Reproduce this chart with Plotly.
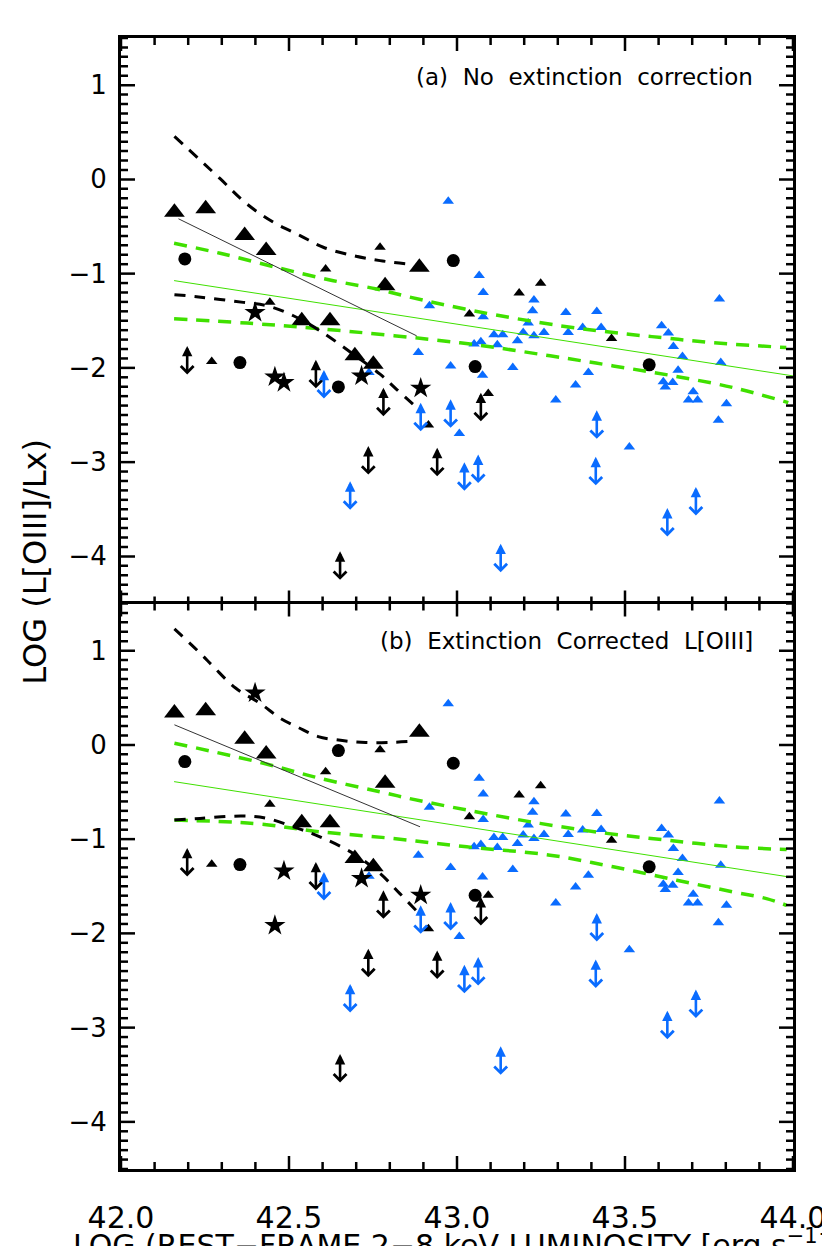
import plotly.graph_objects as go

# ---- data --------------------------------------------------------------
# x = log rest-frame 2-8 keV luminosity; ya = panel (a) value, yb = panel (b)
big_tri_x = [42.159, 42.252, 42.368, 42.432, 42.538, 42.622, 42.696, 42.751, 42.786, 42.888]
big_tri_ya = [-0.348, -0.312, -0.596, -0.755, -1.500, -1.500, -1.872, -1.961, -1.128, -0.933]
big_tri_yb = [0.337, 0.362, 0.060, -0.096, -0.826, -0.826, -1.206, -1.294, -0.408, 0.135]

circ_x = [42.190, 42.354, 42.647, 42.989, 43.054, 43.572]
circ_ya = [-0.844, -1.944, -2.202, -0.862, -1.986, -1.968]
circ_yb = [-0.177, -1.270, -0.060, -0.195, -1.596, -1.294]

star_x = [42.399, 42.458, 42.485, 42.716, 42.892]
star_ya = [-1.412, -2.096, -2.156, -2.085, -2.216]
star_yb = [0.550, -1.915, -1.337, -1.418, -1.596]

small_tri_x = [42.270, 42.443, 42.609, 42.771, 42.915, 43.037, 43.093, 43.185, 43.249, 43.460]
small_tri_ya = [-1.933, -1.305, -0.950, -0.720, -2.606, -1.429, -2.273, -1.205, -1.103, -1.688]
small_tri_yb = [-1.266, -0.631, -0.284, -0.053, -1.950, -0.762, -1.596, -0.532, -0.433, -1.011]

blk_lim_x = [42.197, 42.580, 42.652, 42.736, 42.781, 42.941, 43.071]
blk_lim_ya = [-1.926, -2.074, -4.106, -2.989, -2.369, -3.007, -2.422]
blk_lim_yb = [-1.252, -1.401, -3.439, -2.322, -1.702, -2.340, -1.773]

blue_lim_x = [42.604, 42.682, 42.892, 42.981, 43.022, 43.063, 43.130, 43.413, 43.416, 43.626, 43.711]
blue_lim_ya = [-2.181, -3.362, -2.529, -2.493, -3.160, -3.078, -4.024, -3.103, -2.610, -3.646, -3.422]
blue_lim_yb = [-1.507, -2.695, -1.862, -1.826, -2.493, -2.411, -3.358, -2.436, -1.943, -2.979, -2.755]

blue_x = [42.974, 43.066, 43.078, 42.918, 43.229, 43.225, 43.078, 43.324, 43.416, 43.212,
          43.110, 43.136, 43.197, 43.259, 43.229, 43.331, 43.374, 43.429, 43.051, 43.071,
          43.120, 43.180, 42.885, 42.981, 43.076, 43.166, 43.391, 43.353, 43.294, 43.609,
          43.629, 43.644, 43.671, 43.658, 43.614, 43.620, 43.642, 43.703, 43.689, 43.716,
          43.802, 43.778, 43.781, 43.785, 43.007, 43.513, 42.738]
blue_ya = [-0.231, -1.021, -1.199, -1.340, -1.280, -1.394, -1.457, -1.412, -1.401, -1.524,
           -1.649, -1.649, -1.624, -1.624, -1.660, -1.624, -1.571, -1.571, -1.748, -1.723,
           -1.755, -1.713, -1.837, -1.979, -2.078, -1.997, -2.050, -2.181, -2.340, -1.553,
           -1.631, -1.773, -1.880, -2.024, -2.146, -2.202, -2.156, -2.252, -2.340, -2.340,
           -2.380, -2.556, -1.269, -1.944, -2.695, -2.840, -2.050]
blue_yb = [0.436, -0.355, -0.521, -0.663, -0.603, -0.716, -0.791, -0.734, -0.727, -0.851,
           -0.982, -0.982, -0.957, -0.950, -0.993, -0.950, -0.904, -0.897, -1.082, -1.057,
           -1.089, -1.046, -1.170, -1.301, -1.401, -1.323, -1.383, -1.507, -1.677, -0.887,
           -0.957, -1.099, -1.206, -1.355, -1.479, -1.535, -1.489, -1.585, -1.677, -1.677,
           -1.702, -1.886, -0.596, -1.277, -2.032, -2.173, -1.394]

# regression fit (green) and its confidence band
fit_x = [42.158, 44.0]
fit_ya = [-1.074, -2.085]
fit_yb = [-0.390, -1.408]

band_hi_xa = [42.158, 42.295, 42.473, 42.632, 42.761, 42.855, 43.049, 43.307, 43.505, 43.624, 43.753, 43.980]
band_hi_ya = [-0.678, -0.784, -0.943, -1.075, -1.163, -1.245, -1.394, -1.553, -1.641, -1.684, -1.731, -1.784]
band_lo_xa = [42.158, 42.375, 42.592, 43.009, 43.277, 43.465, 43.644, 43.822, 43.986]
band_lo_ya = [-1.479, -1.525, -1.585, -1.734, -1.872, -1.979, -2.085, -2.209, -2.369]

band_hi_xb = [42.159, 42.424, 42.592, 42.791, 42.855, 43.029, 43.247, 43.446, 43.624, 43.822, 43.981]
band_hi_yb = [0.018, -0.195, -0.355, -0.514, -0.567, -0.691, -0.833, -0.939, -1.011, -1.082, -1.110]
band_lo_xb = [42.159, 42.394, 42.592, 42.810, 43.029, 43.277, 43.465, 43.654, 43.822, 43.921, 43.981]
band_lo_yb = [-0.798, -0.833, -0.922, -0.993, -1.082, -1.170, -1.294, -1.436, -1.560, -1.631, -1.702]

# low-luminosity fit (thin black) and its band (black dashed)
lowfit_xa = [42.171, 42.880]
lowfit_ya = [-0.418, -1.660]
lowfit_xb = [42.159, 42.890]
lowfit_yb = [0.213, -0.869]

low_hi_xa = [42.159, 42.295, 42.374, 42.453, 42.533, 42.602, 42.691, 42.771, 42.850]
low_hi_ya = [0.457, 0.007, -0.259, -0.454, -0.596, -0.720, -0.809, -0.862, -0.897]
low_lo_xa = [42.159, 42.225, 42.364, 42.434, 42.513, 42.592, 42.691, 42.771, 42.820, 42.875]
low_lo_ya = [-1.223, -1.245, -1.305, -1.340, -1.447, -1.606, -1.854, -2.067, -2.227, -2.404]

low_hi_xb = [42.159, 42.235, 42.275, 42.341, 42.416, 42.473, 42.528, 42.587, 42.659, 42.728, 42.810, 42.854]
low_hi_yb = [1.231, 0.975, 0.830, 0.603, 0.436, 0.284, 0.184, 0.088, 0.046, 0.025, 0.028, 0.035]
low_lo_xb = [42.159, 42.235, 42.364, 42.434, 42.513, 42.592, 42.691, 42.771, 42.830, 42.878]
low_lo_yb = [-0.798, -0.780, -0.755, -0.780, -0.869, -0.975, -1.152, -1.365, -1.578, -1.755]

x_range = [42.0, 44.0]
y_range = [-4.5, 1.5]
x_tickvals = [42.0, 42.5, 43.0, 43.5, 44.0]
x_ticktext = ["42.0", "42.5", "43.0", "43.5", "44.0"]
y_tickvals = [1, 0, -1, -2, -3, -4]
y_ticktext = ["1", "0", "\u22121", "\u22122", "\u22123", "\u22124"]

BLUE = "#0a6cff"
GREEN = "#40e000"
FONT = "DejaVu Sans"

# plot-area size in pixels, used to turn tick lengths into data units
PLOT_W, PANEL_H = 672, 565.5
PX_X = (x_range[1] - x_range[0]) / PLOT_W
PX_Y = (y_range[1] - y_range[0]) / PANEL_H

fig = go.Figure()

panels = [
    ("x", "y", big_tri_ya, circ_ya, star_ya, small_tri_ya, blue_ya, blk_lim_ya, blue_lim_ya,
     fit_ya, (band_hi_xa, band_hi_ya), (band_lo_xa, band_lo_ya), (lowfit_xa, lowfit_ya),
     (low_hi_xa, low_hi_ya), (low_lo_xa, low_lo_ya)),
    ("x2", "y2", big_tri_yb, circ_yb, star_yb, small_tri_yb, blue_yb, blk_lim_yb, blue_lim_yb,
     fit_yb, (band_hi_xb, band_hi_yb), (band_lo_xb, band_lo_yb), (lowfit_xb, lowfit_yb),
     (low_hi_xb, low_hi_yb), (low_lo_xb, low_lo_yb)),
]

# inside ticks on all four frame edges (IDL style), every 0.1
x_minor = [round(x_range[0] + 0.1 * i, 1) for i in range(21)]
y_minor = [round(y_range[0] + 0.1 * i, 1) for i in range(61)]


def is_major(v, majors):
    return any(abs(v - m) < 1e-6 for m in majors)


tick_x, tick_y = [], []
for xv in x_minor:
    ln = (13 if is_major(xv, x_tickvals) else 7) * PX_Y
    tick_x += [xv, xv, None, xv, xv, None]
    tick_y += [y_range[0], y_range[0] + ln, None, y_range[1], y_range[1] - ln, None]
for yv in y_minor:
    ln = (14 if is_major(yv, y_tickvals) else 7) * PX_X
    tick_x += [x_range[0], x_range[0] + ln, None, x_range[1], x_range[1] - ln, None]
    tick_y += [yv, yv, None, yv, yv, None]

annotations = []
for (xr, yr, bt, ci, st, stri, bl, blim, bllim, fit, bhi, blo, lfit, lhi, llo) in panels:
    def pts(x, y, symbol, size, color):
        fig.add_trace(go.Scatter(x=x, y=y, xaxis=xr, yaxis=yr, mode="markers",
                                 marker=dict(symbol=symbol, size=size, color=color, line=dict(width=0)),
                                 showlegend=False, hoverinfo="skip"))

    def curve(x, y, color, width, dash, shape="spline"):
        fig.add_trace(go.Scatter(x=x, y=y, xaxis=xr, yaxis=yr, mode="lines",
                                 line=dict(color=color, width=width, dash=dash, shape=shape),
                                 showlegend=False, hoverinfo="skip"))

    pts(blue_x, bl, "triangle-up", 10, BLUE)
    pts(small_tri_x, stri, "triangle-up", 10, "black")
    pts(big_tri_x, bt, "triangle-up", 18, "black")
    pts(circ_x, ci, "circle", 13, "black")
    pts(star_x, st, "star", 16, "black")

    curve(fit_x, fit, GREEN, 1, "solid", "linear")
    curve(bhi[0], bhi[1], GREEN, 3.5, "13px,9px")
    curve(blo[0], blo[1], GREEN, 3.5, "13px,9px")
    curve(lfit[0], lfit[1], "#333333", 1, "solid", "linear")
    curve(lhi[0], lhi[1], "black", 3, "11px,9px")
    curve(llo[0], llo[1], "black", 3, "11px,9px")

    fig.add_trace(go.Scatter(x=tick_x, y=tick_y, xaxis=xr, yaxis=yr, mode="lines",
                             line=dict(color="black", width=2.5), cliponaxis=False,
                             showlegend=False, hoverinfo="skip"))

    # double-headed limit arrows, centred on the value
    for xs, ys, col in ((blk_lim_x, blim, "black"), (blue_lim_x, bllim, BLUE)):
        for xv, yv in zip(xs, ys):
            annotations.append(dict(
                x=xv, y=yv, xref=xr, yref=yr, ax=0, ay=30, text="", showarrow=True,
                arrowhead=2, startarrowhead=4, arrowside="end+start",
                arrowwidth=2.6, arrowsize=0.8, startarrowsize=0.95,
                arrowcolor=col, yshift=15,
            ))

annotations += [
    dict(x=43.887, y=1.085, xref="x", yref="y", xanchor="right", yanchor="middle",
         text="(a)\u00a0 No\u00a0 extinction\u00a0 correction", showarrow=False,
         font=dict(family=FONT, size=23, color="black")),
    dict(x=43.887, y=1.106, xref="x2", yref="y2", xanchor="right", yanchor="middle",
         text="(b)\u00a0 Extinction\u00a0 Corrected\u00a0 L[OIII]", showarrow=False,
         font=dict(family=FONT, size=23, color="black")),
    dict(x=-0.128, y=0.537, xref="paper", yref="paper", xanchor="center", yanchor="middle",
         textangle=-90, text="LOG (L[OIII]/Lx)", showarrow=False,
         font=dict(family=FONT, size=32, color="black")),
    dict(x=0.5, y=-0.066, xref="paper", yref="paper", xanchor="center", yanchor="middle",
         text="LOG (REST\u2212FRAME 2\u22128 keV LUMINOSITY [erg s<sup>\u22121</sup>])",
         showarrow=False, font=dict(family=FONT, size=30, color="black")),
]

frame = dict(showline=True, linewidth=3, linecolor="black", ticks="",
             showgrid=False, zeroline=False, automargin=False)
x_axis = dict(range=x_range, tickmode="array", tickvals=x_tickvals, ticktext=x_ticktext, **frame)
y_axis = dict(range=y_range, tickmode="array", tickvals=y_tickvals, ticktext=y_ticktext,
              ticklabelstandoff=6, tickfont=dict(family=FONT, size=26, color="black"),
              mirror=True, **frame)

# page body adds an 8px offset, so the figure is 8px smaller than the window
fig.update_layout(
    width=822, height=1238,
    margin=dict(l=113, r=37, t=30, b=77),
    plot_bgcolor="white", paper_bgcolor="white",
    showlegend=False,
    font=dict(family=FONT, color="black"),
    annotations=annotations,
    # top panel: frame line on top only; the shared middle line comes from the lower panel
    xaxis=dict(domain=[0, 1], anchor="y", side="top", showticklabels=False, mirror=False, **x_axis),
    xaxis2=dict(domain=[0, 1], anchor="y2", ticklabelstandoff=20, mirror=True,
                tickfont=dict(family=FONT, size=30, color="black"), **x_axis),
    yaxis=dict(domain=[0.5, 1], anchor="x", **y_axis),
    yaxis2=dict(domain=[0, 0.5], anchor="x2", **y_axis),
)

fig.write_html("out.html")
